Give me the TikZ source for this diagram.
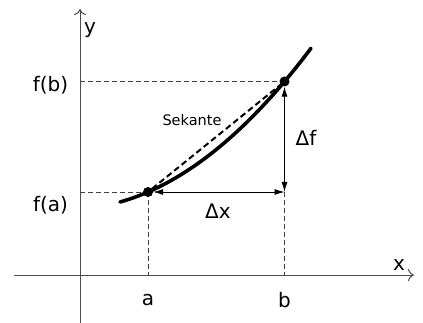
\documentclass[tikz,border=0pt]{standalone}
\usepackage{fontspec}
\setmainfont{DejaVu Sans}
\usetikzlibrary{arrows.meta}
\begin{document}
\begin{tikzpicture}[x=1pt,y=-1pt,
  axis/.style={draw=black!70,line width=1pt,-{To[length=6pt,width=12pt]}},
  guide/.style={draw=black!75,line width=0.8pt,dash pattern=on 5pt off 3pt},
  delta/.style={draw=black,line width=0.9pt,{Latex[length=10pt,width=6pt]}-{Latex[length=10pt,width=6pt]}},
  secant/.style={draw=black,line width=2pt,dash pattern=on 6pt off 3.5pt},
  curve/.style={draw=black,line width=3.6pt,line cap=round},
  dot/.style={circle,fill=black,inner sep=0pt,minimum size=10pt},
  lbl/.style={font=\fontsize{20}{24}\selectfont,inner sep=0pt},
  small/.style={font=\fontsize{14.5}{17}\selectfont,inner sep=0pt}]
\useasboundingbox (0,0) rectangle (423,323);
% axes
\coordinate (ybot) at (80,323);
\coordinate (ytop) at (80,9);
\coordinate (xleft) at (14,275);
\coordinate (xright) at (414,275);
\draw[axis] (ybot) -- (ytop);
\draw[axis] (xleft) -- (xright);
% reference coordinates
\coordinate (fa) at (80,192);
\coordinate (fb) at (80,81.5);
\coordinate (ax) at (148,275);
\coordinate (bx) at (284.5,275);
\coordinate (bq) at (284.5,192);
% guides
\draw[guide] (fb) -- (284.5,81.5);
\draw[guide] (fa) -- (148,192);
\draw[guide] (148,192) -- (ax);
\draw[guide] (bq) -- (bx);
% curve
\draw[curve,domain=120:311,samples=60] plot (\x,{275-(0.002754*(\x-148)*(\x-148)+0.4343*(\x-148)+83)});
% points
\node[dot] (pa) at (148,192) {};
\node[dot] (pb) at (284.5,81.5) {};
% secant
\draw[secant] (pa) -- (pb);
% deltas
\draw[delta] (pa) -- (bq);
\draw[delta] (bq) -- (pb);
% labels
\node[lbl] (ly) at (90,30) {y};
\node[lbl] (lx) at (399,265) {x};
\node[lbl] (lfb) at (50.5,85) {f(b)};
\node[lbl] (lfa) at (50.5,205) {f(a)};
\node[lbl] (la) at (148,300) {a};
\node[lbl] (lb) at (284.5,300) {b};
\node[lbl] (ldx) at (218,211) {Δx};
\node[lbl] (ldf) at (306,138) {Δf};
\node[small] (lsek) at (192,120) {Sekante};
\end{tikzpicture}
\end{document}
